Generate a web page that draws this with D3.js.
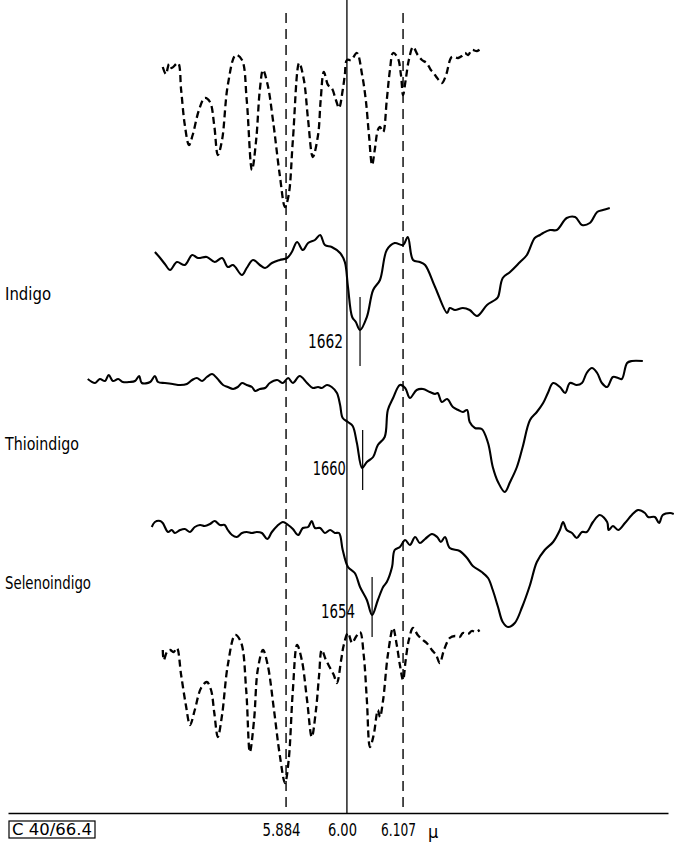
<!DOCTYPE html>
<html>
<head>
<meta charset="utf-8">
<script src="https://cdn.jsdelivr.net/npm/d3@7"></script>
<style>
  body { margin: 0; background: #fff; }
  svg { display: block; }
  text { font-family: "DejaVu Sans Condensed", "DejaVu Sans", sans-serif; font-stretch: condensed; fill: #000; }
</style>
</head>
<body>
<div id="chart"></div>
<script>
// wavelength (micron) / trace height (arbitrary units, stacked)
const refTop = [[5.649,74.6],[5.655,73.9],[5.661,74.9],[5.666,74.5],[5.678,75.0],[5.684,72.3],[5.691,68.8],[5.699,66.8],[5.706,67.8],[5.718,70.3],[5.729,71.5],[5.739,71.1],[5.747,68.8],[5.754,65.8],[5.762,67.3],[5.773,72.8],[5.788,75.8],[5.800,75.3],[5.809,71.3],[5.819,64.3],[5.827,67.3],[5.834,72.3],[5.840,74.3],[5.849,72.8],[5.859,69.3],[5.872,63.8],[5.882,60.6],[5.889,61.8],[5.897,67.3],[5.909,75.0],[5.918,73.3],[5.926,69.3],[5.935,65.6],[5.945,67.8],[5.950,71.3],[5.956,74.1],[5.964,72.8],[5.971,72.5],[5.979,71.3],[5.985,70.5],[5.992,72.3],[5.996,73.8],[6.000,75.3],[6.008,75.3],[6.019,76.0],[6.029,73.8],[6.036,71.3],[6.042,67.8],[6.048,64.8],[6.053,66.3],[6.059,68.3],[6.063,68.6],[6.069,68.1],[6.076,71.3],[6.082,74.3],[6.088,76.0],[6.097,75.5],[6.103,73.8],[6.107,71.8],[6.112,73.3],[6.118,75.3],[6.126,76.6],[6.135,75.8],[6.143,75.3],[6.152,75.0],[6.160,74.3],[6.164,74.1],[6.172,73.5],[6.181,73.0],[6.189,73.8],[6.200,75.6],[6.212,75.5],[6.219,75.7],[6.225,76.0],[6.231,75.8],[6.238,76.3],[6.248,76.2],[6.257,76.5]];

const indigo = [[5.634,56.1],[5.644,55.5],[5.653,54.9],[5.663,54.3],[5.676,55.1],[5.691,54.8],[5.705,55.8],[5.716,55.5],[5.733,55.6],[5.748,55.1],[5.762,55.5],[5.773,54.6],[5.783,54.8],[5.800,53.8],[5.809,54.5],[5.821,55.3],[5.834,54.8],[5.844,54.5],[5.857,55.0],[5.872,55.3],[5.886,55.5],[5.895,56.1],[5.905,57.1],[5.916,56.3],[5.926,57.0],[5.939,57.3],[5.949,57.8],[5.958,56.8],[5.971,56.6],[5.987,56.0],[5.996,55.1],[6.002,52.6],[6.010,49.6],[6.017,49.1],[6.025,48.3],[6.038,49.6],[6.050,52.3],[6.063,53.3],[6.076,56.3],[6.091,57.0],[6.107,56.8],[6.116,57.6],[6.126,55.3],[6.139,55.1],[6.149,54.8],[6.168,52.6],[6.191,50.0],[6.196,50.5],[6.206,50.3],[6.221,50.5],[6.234,50.3],[6.248,49.7],[6.267,50.8],[6.282,51.3],[6.288,51.6],[6.297,53.5],[6.311,54.1],[6.330,55.1],[6.343,55.8],[6.358,57.5],[6.368,57.8],[6.374,58.0],[6.387,58.3],[6.400,58.3],[6.419,59.5],[6.435,59.6],[6.448,58.8],[6.463,59.0],[6.477,60.1],[6.488,60.3],[6.501,60.5]];

const thioindigo = [[5.506,43.4],[5.520,43.0],[5.529,43.4],[5.539,43.2],[5.546,43.8],[5.554,43.2],[5.564,43.4],[5.573,43.1],[5.586,43.1],[5.596,43.2],[5.604,43.7],[5.609,43.0],[5.625,43.1],[5.634,43.7],[5.640,43.1],[5.653,43.0],[5.668,42.9],[5.682,42.8],[5.695,42.9],[5.705,43.3],[5.714,43.5],[5.724,43.2],[5.733,43.6],[5.743,43.9],[5.752,43.5],[5.764,42.8],[5.773,42.6],[5.783,42.4],[5.792,42.6],[5.800,43.0],[5.809,42.8],[5.819,42.6],[5.825,42.2],[5.834,42.4],[5.844,42.5],[5.853,43.0],[5.867,43.3],[5.878,43.0],[5.888,43.5],[5.897,43.0],[5.910,43.7],[5.924,43.0],[5.935,42.5],[5.945,42.6],[5.952,42.5],[5.962,42.8],[5.971,42.6],[5.981,42.0],[5.987,40.8],[5.992,39.5],[6.002,39.1],[6.011,38.7],[6.019,37.0],[6.029,34.5],[6.038,35.1],[6.050,35.6],[6.059,36.8],[6.072,37.6],[6.078,40.3],[6.088,41.5],[6.101,42.8],[6.111,42.5],[6.120,41.5],[6.133,42.3],[6.145,42.4],[6.158,42.1],[6.168,41.9],[6.173,42.0],[6.181,41.1],[6.191,41.4],[6.202,40.6],[6.212,40.3],[6.221,40.1],[6.229,40.3],[6.234,39.1],[6.244,38.5],[6.257,38.4],[6.269,37.0],[6.278,34.6],[6.288,33.1],[6.301,32.1],[6.311,33.1],[6.324,34.6],[6.335,36.6],[6.349,39.3],[6.362,40.1],[6.374,41.0],[6.383,42.0],[6.393,43.0],[6.406,42.6],[6.416,42.0],[6.425,43.0],[6.438,42.8],[6.448,43.0],[6.457,44.0],[6.467,44.5],[6.477,44.0],[6.486,43.0],[6.496,42.6],[6.507,43.6],[6.517,43.5],[6.524,43.4],[6.534,45.0],[6.543,45.2],[6.564,45.2]];

const selenoindigo = [[5.628,28.6],[5.634,29.1],[5.644,29.2],[5.649,29.0],[5.659,28.1],[5.666,28.3],[5.672,28.0],[5.682,28.3],[5.691,28.4],[5.701,28.1],[5.710,28.6],[5.720,28.8],[5.729,28.7],[5.739,28.9],[5.748,29.2],[5.758,28.8],[5.767,28.8],[5.773,28.3],[5.781,27.8],[5.790,27.6],[5.800,28.0],[5.809,28.1],[5.819,28.0],[5.828,28.1],[5.838,28.0],[5.848,27.4],[5.857,28.1],[5.867,28.7],[5.878,29.1],[5.888,28.8],[5.897,28.4],[5.907,27.8],[5.916,28.5],[5.926,28.6],[5.933,29.2],[5.939,28.5],[5.949,28.5],[5.958,28.0],[5.968,28.3],[5.977,28.0],[5.985,28.0],[5.992,26.3],[6.002,24.6],[6.015,24.0],[6.025,22.6],[6.038,21.3],[6.048,19.8],[6.059,21.3],[6.069,22.6],[6.076,23.1],[6.086,24.6],[6.091,26.3],[6.101,26.6],[6.111,27.3],[6.120,26.8],[6.130,27.6],[6.139,27.0],[6.149,27.4],[6.162,27.9],[6.172,27.6],[6.179,27.1],[6.187,27.6],[6.196,26.5],[6.215,26.2],[6.229,25.5],[6.240,24.7],[6.257,24.1],[6.269,23.5],[6.278,22.3],[6.288,20.6],[6.297,19.1],[6.307,18.6],[6.320,19.0],[6.334,20.6],[6.349,22.8],[6.362,25.1],[6.377,26.3],[6.393,27.1],[6.406,28.3],[6.412,29.1],[6.419,28.3],[6.429,28.0],[6.438,27.5],[6.448,28.1],[6.457,28.1],[6.469,29.1],[6.482,29.8],[6.496,29.1],[6.499,28.3],[6.507,28.7],[6.517,28.3],[6.530,29.0],[6.543,29.8],[6.555,30.3],[6.568,30.0],[6.574,29.6],[6.587,29.6],[6.595,29.0],[6.602,29.8],[6.616,30.0],[6.623,29.9]];

const refBottom = [[5.649,16.3],[5.651,15.3],[5.657,16.1],[5.663,16.3],[5.670,16.1],[5.676,16.5],[5.684,13.8],[5.693,10.8],[5.701,8.8],[5.710,10.3],[5.722,12.5],[5.733,13.1],[5.741,12.3],[5.747,10.1],[5.754,7.6],[5.762,9.8],[5.773,14.8],[5.787,17.8],[5.798,17.1],[5.808,12.3],[5.815,6.1],[5.823,9.3],[5.830,14.3],[5.840,16.3],[5.849,14.8],[5.861,10.3],[5.872,5.8],[5.882,3.0],[5.889,5.3],[5.897,12.3],[5.905,16.8],[5.914,15.3],[5.924,11.3],[5.933,7.6],[5.941,10.3],[5.947,13.8],[5.952,16.3],[5.960,15.3],[5.968,14.5],[5.975,13.8],[5.981,13.0],[5.989,15.3],[5.994,16.8],[6.002,18.0],[6.010,17.0],[6.017,17.6],[6.025,18.1],[6.032,15.8],[6.038,11.3],[6.044,6.6],[6.051,7.8],[6.059,10.3],[6.063,9.6],[6.069,11.3],[6.078,15.8],[6.088,18.5],[6.095,16.8],[6.101,14.8],[6.107,13.3],[6.112,15.3],[6.118,17.3],[6.126,18.5],[6.135,17.8],[6.145,17.3],[6.152,17.0],[6.162,16.3],[6.170,15.8],[6.177,15.0],[6.185,16.3],[6.196,17.5],[6.206,17.7],[6.215,17.6],[6.221,18.0],[6.231,17.9],[6.238,18.2],[6.246,18.1],[6.253,18.3]];

const compounds = ["Indigo", "Thioindigo", "Selenoindigo"];
const compoundLabelV = [51.3, 36.3, 22.4];

const bandLabels = ["1662", "1660", "1654"];
const bandPos = [6.025, 6.030, 6.048];
const bandTickTop = [51.6, 38.3, 23.6];
const bandTickBottom = [44.7, 32.3, 17.6];
const bandLabelV = [46.5, 33.8, 19.5];

const refLines = [5.884, 6.00, 6.107];
const tickValues = [5.884, 6.00, 6.107];
const tickLabels = ["5.884", "6.00", "6.107"];
const unitLabel = "μ";
const plateLabel = "C 40/66.4";

const width = 674, height = 846;

// squeeze a label to the narrow lettering of the original plate
function fitTo(sel, widths) {
  sel.attr("textLength", (d, i) => widths[i]).attr("lengthAdjust", "spacingAndGlyphs");
}

const svg = d3.select("#chart").append("svg")
  .attr("width", width)
  .attr("height", height)
  .style("background", "#fff");

const x = d3.scaleLinear().domain([5.354, 6.612]).range([8, 668]);
const y = d3.scaleLinear().domain([0, 80]).range([813, 13]);

// reference verticals
svg.selectAll("line.ref")
  .data(refLines)
  .enter().append("line")
  .attr("class", "ref")
  .attr("x1", d => x(d)).attr("x2", d => x(d))
  .attr("y1", (d, i) => i === 1 ? y(81.3) : y(80))
  .attr("y2", y(0))
  .attr("stroke", "#000")
  .attr("stroke-width", (d, i) => i === 1 ? 1.3 : 1.4)
  .attr("stroke-dasharray", (d, i) => i === 1 ? null : "10,6");

const smooth = d3.line().x(d => x(d[0])).y(d => y(d[1])).curve(d3.curveCatmullRom.alpha(0.5));

// dashed calibration traces
[refTop, refBottom].forEach(tr => {
  svg.append("path")
    .datum(tr)
    .attr("d", smooth)
    .attr("fill", "none")
    .attr("stroke", "#000")
    .attr("stroke-width", 2.3)
    .attr("stroke-dasharray", "7,4");
});

// sample spectra
[indigo, thioindigo, selenoindigo].forEach(tr => {
  svg.append("path")
    .datum(tr)
    .attr("d", smooth)
    .attr("fill", "none")
    .attr("stroke", "#000")
    .attr("stroke-width", 2.1)
    .attr("stroke-linejoin", "round");
});

// band markers
svg.selectAll("line.band")
  .data(bandPos)
  .enter().append("line")
  .attr("class", "band")
  .attr("x1", d => x(d)).attr("x2", d => x(d))
  .attr("y1", (d, i) => y(bandTickTop[i]))
  .attr("y2", (d, i) => y(bandTickBottom[i]))
  .attr("stroke", "#000")
  .attr("stroke-width", 1.2);

svg.selectAll("text.band")
  .data(bandLabels)
  .enter().append("text")
  .attr("class", "band")
  .attr("x", (d, i) => x(bandPos[i]) - 17)
  .attr("y", (d, i) => y(bandLabelV[i]))
  .attr("text-anchor", "end")
  .style("font-size", "19px")
  .text(d => d)
  .call(fitTo, [35, 33, 34]);

// compound names
svg.selectAll("text.name")
  .data(compounds)
  .enter().append("text")
  .attr("class", "name")
  .attr("x", 5)
  .attr("y", (d, i) => y(compoundLabelV[i]))
  .style("font-size", "18px")
  .text(d => d)
  .call(fitTo, [46, 74, 86]);

// wavelength axis
const axis = d3.axisBottom(x)
  .tickValues(tickValues)
  .tickFormat((d, i) => tickLabels[i])
  .tickSize(0)
  .tickSizeOuter(0)
  .tickPadding(10);

const gx = svg.append("g")
  .attr("transform", "translate(0," + y(0) + ")")
  .call(axis);
gx.select(".domain").attr("stroke", "#000").attr("stroke-width", 1.5);
gx.selectAll(".tick text")
  .attr("dx", -5)
  .attr("font-family", null)
  .attr("font-size", null)
  .style("font-size", "18px")
  .call(fitTo, [38, 29, 35]);

svg.append("text")
  .attr("x", x(6.107) + 25)
  .attr("y", y(0) + 25)
  .style("font-size", "18px")
  .text(unitLabel);

svg.append("rect")
  .attr("x", 9).attr("y", 821)
  .attr("width", 86).attr("height", 17)
  .attr("fill", "none")
  .attr("stroke", "#000")
  .attr("stroke-width", 1.2);

svg.append("text")
  .attr("x", 12).attr("y", 835)
  .style("font-size", "16px")
  .text(plateLabel)
  .call(fitTo, [80]);
</script>
</body>
</html>
